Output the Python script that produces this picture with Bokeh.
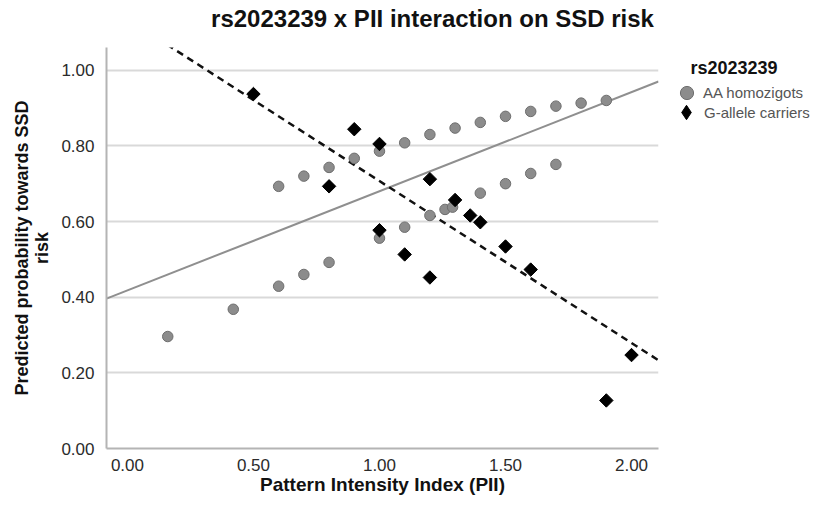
from bokeh.plotting import figure
from bokeh.layouts import row, column
from bokeh.models import (Range1d, FixedTicker, Legend, LegendItem, Label,
                          NumeralTickFormatter)
from bokeh.embed import file_html
from bokeh.resources import INLINE
import numpy as np

# ---- data ----
aa_x = [0.16, 0.42, 0.6, 0.7, 0.8, 1.0, 1.1, 1.2, 1.26, 1.29, 1.4, 1.5, 1.6, 1.7,
        0.6, 0.7, 0.8, 0.9, 1.0, 1.1, 1.2, 1.3, 1.4, 1.5, 1.6, 1.7, 1.8, 1.9]
aa_y = [0.296, 0.368, 0.429, 0.460, 0.492, 0.556, 0.585, 0.616, 0.632, 0.638, 0.675, 0.700, 0.727, 0.751,
        0.693, 0.720, 0.743, 0.767, 0.786, 0.808, 0.830, 0.847, 0.862, 0.878, 0.891, 0.905, 0.913, 0.920]

g_x = [0.5, 0.8, 0.9, 1.0, 1.0, 1.1, 1.2, 1.2, 1.3, 1.36, 1.4, 1.5, 1.6, 1.9, 2.0]
g_y = [0.937, 0.693, 0.844, 0.805, 0.577, 0.513, 0.712, 0.452, 0.657, 0.616, 0.598, 0.534, 0.473, 0.127, 0.247]

# fit lines (intercept, slope)
aa_fit = [0.418, 0.262]
g_fit = [1.135, -0.428]

x_ticks = [0.0, 0.5, 1.0, 1.5, 2.0]
y_ticks = [0.0, 0.2, 0.4, 0.6, 0.8, 1.0]

x_min, x_max = -0.083, 2.107
y_min, y_max = 0.0, 1.06

TITLE = "rs2023239 x PII interaction on SSD risk"
LEGEND_TITLE = "rs2023239"
FONT = "Liberation Sans"

TW, TH = 815, 36          # title strip
H = 469                   # plot + legend height
W1, W2 = 668, 147

# ---------- title strip ----------
tf = figure(width=TW, height=TH, output_backend="svg", toolbar_location=None,
            x_range=Range1d(0, 1), y_range=Range1d(0, 1),
            x_axis_location=None, y_axis_location=None, min_border=0)
tf.outline_line_color = None
tf.grid.visible = False
tf.add_layout(Label(x=432, y=TH - 18, x_units="screen", y_units="screen",
                    text=TITLE, text_font=FONT, text_font_style="bold",
                    text_font_size="24px", text_color="#111111",
                    text_align="center", text_baseline="middle"))

# ---------- main plot ----------
p = figure(width=W1, height=H, output_backend="svg", toolbar_location=None,
           x_range=Range1d(x_min, x_max), y_range=Range1d(y_min, y_max),
           min_border_left=106, min_border_right=10,
           min_border_top=11, min_border_bottom=57)
p.outline_line_color = None

p.xgrid.grid_line_color = None
p.ygrid.ticker = FixedTicker(ticks=y_ticks[1:])
p.ygrid.grid_line_color = "#d9d9d9"
p.ygrid.grid_line_width = 2

for ax in (p.xaxis[0], p.yaxis[0]):
    ax.axis_line_color = "#b4b4b4"
    ax.axis_line_width = 2
    ax.major_tick_line_color = None
    ax.minor_tick_line_color = None
    ax.major_label_text_font = FONT
    ax.major_label_text_font_size = "17px"
    ax.major_label_text_color = "#2b2b2b"
    ax.axis_label_text_font = FONT
    ax.axis_label_text_font_style = "bold"
    ax.axis_label_text_color = "#111111"

p.xaxis.ticker = FixedTicker(ticks=x_ticks)
p.yaxis.ticker = FixedTicker(ticks=y_ticks)
p.xaxis.formatter = NumeralTickFormatter(format="0.00")
p.yaxis.formatter = NumeralTickFormatter(format="0.00")
p.xaxis.axis_label = "Pattern Intensity Index (PII)"
p.yaxis.axis_label = "Predicted probability towards SSD\nrisk"
p.xaxis.axis_label_text_font_size = "19px"
p.yaxis.axis_label_text_font_size = "18px"
p.yaxis.axis_label_text_line_height = 1.0
p.xaxis.major_label_standoff = 4
p.xaxis.axis_label_standoff = 0
p.yaxis.major_label_standoff = 6
p.yaxis.axis_label_standoff = 6

lx = np.array([x_min, x_max])
p.line(lx, aa_fit[0] + aa_fit[1] * lx, line_color="#8f8f8f", line_width=2)
p.line(lx, g_fit[0] + g_fit[1] * lx, line_color="#111111", line_width=2.5,
       line_dash="7 5")

AA_STYLE = dict(fill_color="#8c8c8c", line_color="#6e6e6e", line_width=1)
G_STYLE = dict(fill_color="#000000", line_color="#000000")

p.scatter(aa_x, aa_y, marker="circle", size=10.5, **AA_STYLE)
p.scatter(g_x, g_y, marker="square", angle=np.pi / 4, size=9.5, **G_STYLE)

# ---------- legend canvas (its frame is aligned with the plot frame) ----------
lg = figure(width=W2, height=H, output_backend="svg", toolbar_location=None,
            x_range=Range1d(10, 11), y_range=Range1d(10, 11),
            x_axis_location=None, y_axis_location=None, min_border=0)
lg.outline_line_color = None
lg.grid.visible = False
# same series, outside this canvas's visible range: only their legend glyphs show
r_aa = lg.scatter(aa_x, aa_y, marker="circle", **AA_STYLE)
r_g = lg.scatter(g_x, g_y, marker="diamond", **G_STYLE)

lg.add_layout(Label(x=22, y=381, x_units="screen", y_units="screen",
                    text=LEGEND_TITLE, text_font=FONT, text_font_style="bold",
                    text_font_size="18px", text_color="#111111",
                    text_align="left", text_baseline="middle"))

common = dict(label_text_font=FONT, label_text_font_size="15px",
              label_text_color="#555555", label_standoff=0,
              padding=0, margin=0, border_line_color=None,
              background_fill_alpha=0, spacing=0)
leg_a = Legend(items=[LegendItem(label="AA homozigots", renderers=[r_aa])],
               location=(2, 339), glyph_width=33, glyph_height=33,
               label_height=19, **common)
leg_b = Legend(items=[LegendItem(label="G-allele carriers", renderers=[r_g])],
               location=(0, 318), glyph_width=36, glyph_height=36,
               label_height=19, **common)
lg.add_layout(leg_a, "center")
lg.add_layout(leg_b, "center")

layout = column(tf, row(p, lg))
open("out.html", "w").write(file_html(layout, INLINE))
